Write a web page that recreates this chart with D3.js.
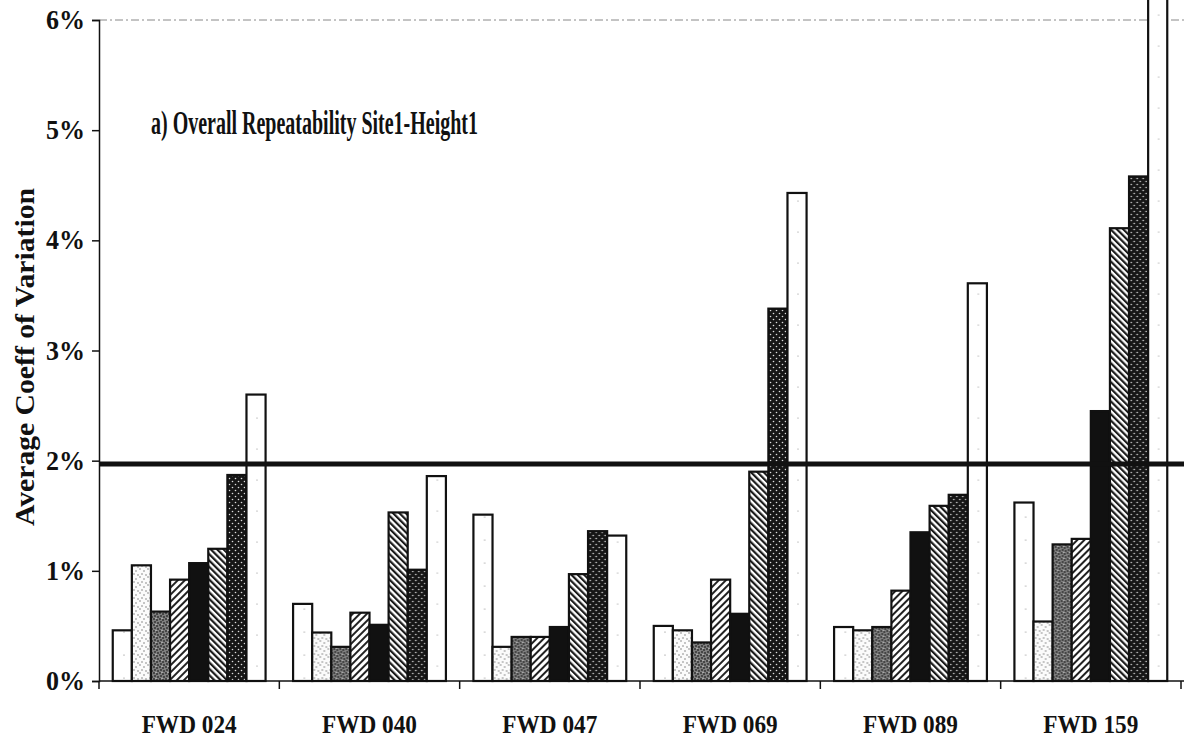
<!DOCTYPE html>
<html>
<head>
<meta charset="utf-8">
<script src="https://cdn.jsdelivr.net/npm/d3@7"></script>
<style>
  body { margin: 0; background: #fff; }
  svg { display: block; }
  text { font-family: "Liberation Serif", "Times New Roman", serif; font-weight: bold; fill: #111; }
</style>
</head>
<body>
<svg id="chart" width="1184" height="740"></svg>
<script>
// units (FWD devices) along the x axis
var units = ["FWD 024", "FWD 040", "FWD 047", "FWD 069", "FWD 089", "FWD 159"];
// 8 bars per unit, in drawing order (values in % coeff of variation)
var series = ["s1", "s2", "s3", "s4", "s5", "s6", "s7", "s8"];
var s1 = [0.46, 0.70, 1.51, 0.50, 0.49, 1.62];
var s2 = [1.05, 0.44, 0.31, 0.46, 0.46, 0.54];
var s3 = [0.63, 0.31, 0.40, 0.35, 0.49, 1.24];
var s4 = [0.92, 0.62, 0.40, 0.92, 0.82, 1.29];
var s5 = [1.07, 0.51, 0.49, 0.61, 1.35, 2.45];
var s6 = [1.20, 1.53, 0.97, 1.90, 1.59, 4.11];
var s7 = [1.87, 1.01, 1.36, 3.38, 1.69, 4.58];
var s8 = [2.60, 1.86, 1.32, 4.43, 3.61, 6.80];
var seriesValues = [s1, s2, s3, s4, s5, s6, s7, s8];
var yTicks = [0, 1, 2, 3, 4, 5, 6];
var limit = 1.97;   // the thick reference line
var title = "a) Overall Repeatability Site1-Height1";
var yTitle = "Average Coeff of Variation";

var svg = d3.select("#chart");
// note: "top" is taken by window.top, so plot edges get their own names
var plotL = 99, plotR = 1181, plotT = 20, plotB = 681;

var x = d3.scaleBand().domain(units).range([plotL, plotR]).paddingInner(0).paddingOuter(0);
var xs = d3.scaleBand().domain(series).range([0, x.bandwidth()]).paddingInner(0).paddingOuter(0.72);
var y = d3.scaleLinear().domain([0, 6]).range([plotB, plotT]);

// ---- fill patterns, one per series ----
var defs = svg.append("defs");

function pat(id, w, h) {
    return defs.append("pattern").attr("id", id)
        .attr("patternUnits", "userSpaceOnUse").attr("width", w).attr("height", h);
}

// s1: plain white with a stray dot
var p = pat("p1", 17, 23);
p.append("rect").attr("width", 17).attr("height", 23).attr("fill", "#fff");
p.append("circle").attr("cx", 8).attr("cy", 11).attr("r", 0.6).attr("fill", "#777");

// s2: light stipple
p = pat("p2", 8, 8);
p.append("rect").attr("width", 8).attr("height", 8).attr("fill", "#fbfbfb");
[[1, 1], [5, 3], [3, 6], [7, 7]].forEach(function(d) {
    p.append("circle").attr("cx", d[0]).attr("cy", d[1]).attr("r", 0.7).attr("fill", "#666");
});

// s3: mottled grey
p = pat("p3", 6, 6);
p.append("rect").attr("width", 6).attr("height", 6).attr("fill", "#7e7e7e");
[[1, 1], [4, 2], [2, 4], [5, 5]].forEach(function(d) {
    p.append("circle").attr("cx", d[0]).attr("cy", d[1]).attr("r", 1).attr("fill", "#333");
});
p.append("circle").attr("cx", 3).attr("cy", 0.5).attr("r", 0.6).attr("fill", "#ccc");

// s4: forward hatch
p = pat("p4", 5, 5).attr("patternTransform", "rotate(45)");
p.append("rect").attr("width", 5).attr("height", 5).attr("fill", "#fff");
p.append("rect").attr("width", 2).attr("height", 5).attr("fill", "#222");

// s5: solid black
p = pat("p5", 4, 4);
p.append("rect").attr("width", 4).attr("height", 4).attr("fill", "#111");

// s6: backward hatch
p = pat("p6", 4.5, 4.5).attr("patternTransform", "rotate(-45)");
p.append("rect").attr("width", 4.5).attr("height", 4.5).attr("fill", "#fff");
p.append("rect").attr("width", 2.2).attr("height", 4.5).attr("fill", "#1a1a1a");

// s7: black with white dots
p = pat("p7", 6, 6);
p.append("rect").attr("width", 6).attr("height", 6).attr("fill", "#161616");
p.append("circle").attr("cx", 1.5).attr("cy", 1.5).attr("r", 0.8).attr("fill", "#ddd");
p.append("circle").attr("cx", 4.5).attr("cy", 4.5).attr("r", 0.8).attr("fill", "#ddd");

// s8: white
p = pat("p8", 19, 31);
p.append("rect").attr("width", 19).attr("height", 31).attr("fill", "#fff");
p.append("circle").attr("cx", 6).attr("cy", 15).attr("r", 0.6).attr("fill", "#888");

// ---- faint top border ----
svg.append("line")
    .attr("x1", plotL).attr("x2", 1184).attr("y1", plotT).attr("y2", plotT)
    .attr("stroke", "#888").attr("stroke-width", 1).attr("stroke-dasharray", "8,3,2,3");

// ---- bars ----
var groups = svg.append("g").selectAll("g")
    .data(units).enter().append("g")
    .attr("transform", function(d) { return "translate(" + x(d) + ",0)"; });

groups.selectAll("rect")
    .data(function(u, i) {
        return series.map(function(s, j) { return {s: s, j: j, v: seriesValues[j][i]}; });
    })
    .enter().append("rect")
    .attr("x", function(d) { return xs(d.s); })
    .attr("width", xs.bandwidth())
    .attr("y", function(d) { return y(d.v); })
    .attr("height", function(d) { return y(0) - y(d.v); })
    .attr("fill", function(d) { return "url(#p" + (d.j + 1) + ")"; })
    .attr("stroke", "#111")
    .attr("stroke-width", 2.2);

// ---- reference line ----
svg.append("line")
    .attr("x1", plotL).attr("x2", 1184)
    .attr("y1", y(limit)).attr("y2", y(limit))
    .attr("stroke", "#111").attr("stroke-width", 5);

// ---- axes ----
var yAxis = svg.append("g").attr("transform", "translate(" + plotL + ",0)")
    .call(d3.axisLeft(y).tickValues(yTicks).tickSize(7).tickPadding(7)
        .tickFormat(function(d) { return d + "%"; }));
yAxis.select(".domain").attr("stroke", "#111").attr("stroke-width", 1.5);
yAxis.selectAll(".tick line").attr("stroke", "#111").attr("stroke-width", 1.5);
yAxis.selectAll("text")
    .style("font-family", "Liberation Serif").style("font-weight", "bold")
    .style("font-size", "27px").attr("fill", "#111")
    .attr("textLength", 39).attr("lengthAdjust", "spacingAndGlyphs");

var bounds = units.map(function(u) { return x(u); }).concat([plotR]);
svg.append("line")
    .attr("x1", plotL).attr("x2", 1184).attr("y1", plotB).attr("y2", plotB)
    .attr("stroke", "#111").attr("stroke-width", 1.5);
svg.append("g").selectAll("line")
    .data(bounds).enter().append("line")
    .attr("x1", function(d) { return d; }).attr("x2", function(d) { return d; })
    .attr("y1", plotB).attr("y2", plotB + 8)
    .attr("stroke", "#111").attr("stroke-width", 1.5);

svg.append("g").selectAll("text")
    .data(units).enter().append("text")
    .attr("x", function(d) { return x(d) + x.bandwidth() / 2; })
    .attr("y", 733)
    .attr("text-anchor", "middle")
    .attr("textLength", 95).attr("lengthAdjust", "spacingAndGlyphs")
    .style("font-size", "25px")
    .text(function(d) { return d; });

// ---- titles ----
svg.append("text")
    .attr("x", 151).attr("y", 134)
    .attr("textLength", 327).attr("lengthAdjust", "spacingAndGlyphs")
    .style("font-size", "34px")
    .text(title);

svg.append("text")
    .attr("transform", "translate(34,357) rotate(-90)")
    .attr("text-anchor", "middle")
    .attr("textLength", 338).attr("lengthAdjust", "spacingAndGlyphs")
    .style("font-size", "27px")
    .text(yTitle);
</script>
</body>
</html>
